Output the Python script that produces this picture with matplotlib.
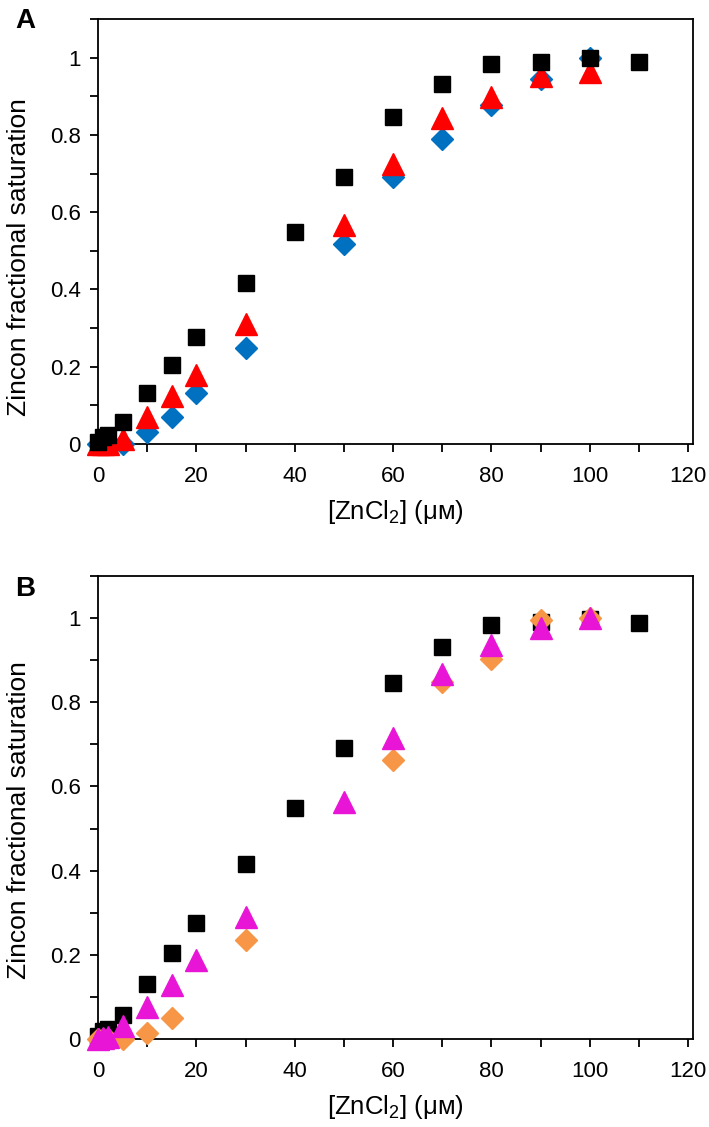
import matplotlib
matplotlib.use("Agg")
import matplotlib.pyplot as plt
from matplotlib.ticker import MultipleLocator, FuncFormatter

plt.rcParams['font.family'] = ['Liberation Sans', 'DejaVu Sans']
plt.rcParams['mathtext.fontset'] = 'custom'
plt.rcParams['mathtext.rm'] = 'Liberation Sans'
plt.rcParams['mathtext.it'] = 'Liberation Sans:italic'

# Control (black squares), same in both panels
ctrl_x = [0, 1, 2, 5, 10, 15, 20, 30, 40, 50, 60, 70, 80, 90, 100, 110]
ctrl_y = [0.006, 0.018, 0.023, 0.058, 0.131, 0.204, 0.276, 0.416, 0.549, 0.692,
          0.846, 0.932, 0.984, 0.990, 0.998, 0.988]

# Panel A
a_tri_x = [0, 1, 2, 5, 10, 15, 20, 30, 50, 60, 70, 80, 90, 100]
a_tri_y = [0.0, 0.0, 0.0, 0.012, 0.070, 0.124, 0.178, 0.310, 0.568, 0.726,
           0.845, 0.899, 0.952, 0.964]
a_dia_x = [0, 1, 2, 5, 10, 15, 20, 30, 50, 60, 70, 80, 90, 100]
a_dia_y = [0.0, 0.0, 0.0, 0.0, 0.032, 0.070, 0.133, 0.248, 0.519, 0.690,
           0.790, 0.878, 0.945, 1.0]

# Panel B
b_tri_x = [0, 1, 2, 5, 10, 15, 20, 30, 50, 60, 70, 80, 90, 100]
b_tri_y = [0.0, 0.003, 0.005, 0.030, 0.077, 0.129, 0.188, 0.289, 0.562, 0.714,
           0.868, 0.937, 0.976, 1.0]
b_dia_x = [0, 1, 2, 5, 10, 15, 30, 60, 70, 80, 90, 100]
b_dia_y = [0.0, 0.0, 0.0, 0.0, 0.015, 0.050, 0.234, 0.664, 0.848, 0.902,
           0.995, 1.0]

xticks = [0, 20, 40, 60, 80, 100, 120]
yticks = [0, 0.2, 0.4, 0.6, 0.8, 1.0]

fig = plt.figure(figsize=(7.09, 11.27), dpi=100)
axA = fig.add_axes([0.1382, 0.606, 0.8392, 0.3771])
axB = fig.add_axes([0.1382, 0.0781, 0.8392, 0.4108])

def style(ax, ylab_y):
    ax.set_xlim(0, 121)
    ax.set_ylim(0, 1.1)
    ax.set_xticks(xticks)
    ax.set_yticks(yticks)
    ax.xaxis.set_minor_locator(MultipleLocator(10))
    ax.yaxis.set_minor_locator(MultipleLocator(0.1))
    ax.yaxis.set_major_formatter(FuncFormatter(lambda v, p: f"{v:g}"))
    ax.tick_params(which='both', direction='out', length=5.5, width=1.3,
                   labelsize=16, top=False, right=False)
    ax.tick_params(axis='x', pad=10)
    ax.tick_params(axis='y', pad=7)
    for s in ax.spines.values():
        s.set_linewidth(1.3)
    ax.set_ylabel("Zincon fractional saturation", fontsize=19)
    ax.yaxis.set_label_coords(-0.113, ylab_y)
    ax.set_xlabel("[ZnCl$_2$] (μᴍ)", fontsize=18.5, labelpad=8)

# Panel A
axA.plot(a_dia_x, a_dia_y, linestyle='none', marker='D', ms=11, color='#0070C0',
         clip_on=False, zorder=3)
axA.plot(a_tri_x, a_tri_y, linestyle='none', marker='^', ms=16, color='#FF0000',
         clip_on=False, zorder=4)
axA.plot(ctrl_x, ctrl_y, linestyle='none', marker='s', ms=12, color='#000000',
         clip_on=False, zorder=5)
style(axA, 0.441)

# Panel B
axB.plot(ctrl_x, ctrl_y, linestyle='none', marker='s', ms=12, color='#000000',
         clip_on=False, zorder=3)
axB.plot(b_dia_x, b_dia_y, linestyle='none', marker='D', ms=11, color='#F79646',
         clip_on=False, zorder=4)
axB.plot(b_tri_x, b_tri_y, linestyle='none', marker='^', ms=16, color='#E815D6',
         clip_on=False, zorder=5)
style(axB, 0.473)

fig.text(0.021, 0.9752, "A", fontsize=20, fontweight='bold', va='baseline', ha='left')
fig.text(0.022, 0.4712, "B", fontsize=20, fontweight='bold', va='baseline', ha='left')

fig.savefig("out.png", dpi=100)
